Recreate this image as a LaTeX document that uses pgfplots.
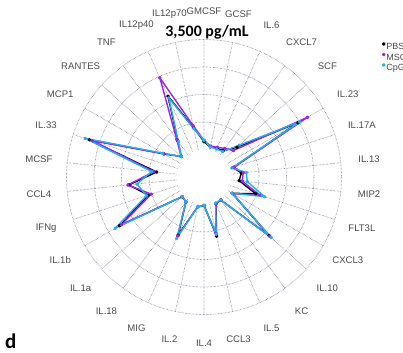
\documentclass[border=0pt]{standalone}
\usepackage{pgfplots}
\pgfplotsset{compat=1.18}
\usepackage{pgfplotstable}
\usepgfplotslibrary{polar}
\usetikzlibrary{calc}
\usepackage{fontspec}
\setmainfont{Liberation Sans}
\newfontfamily\titlefont{Carlito}
\definecolor{gridc}{HTML}{6C6C88}
\definecolor{pbsc}{HTML}{000000}
\definecolor{mscc}{HTML}{A020F0}
\definecolor{cpgc}{HTML}{22B2EA}
\definecolor{labc}{HTML}{4A4A4A}

% angle (deg, counter-clockwise from east), values in pg/mL
\pgfplotstableread{
ang pbs msc cpg
90 250 290 290
78 100 130 100
66 130 160 100
54 160 250 130
42 540 380 640
30 2580 2930 2640
18 100 130 60
6 320 380 480
-6 250 350 510
-18 860 990 1150
-30 160 190 160
-42 1910 1940 2000
-54 30 30 30
-66 60 60 30
-78 1050 950 990
-90 30 30 30
-102 100 100 100
-114 1150 1180 1270
-126 100 100 100
-138 60 60 60
-150 2230 2160 2390
-162 990 890 1050
-174 1530 1560 1270
-186 640 730 800
-198 2960 2860 3100
-210 600 600 640
-222 100 100 100
-234 540 600 510
-246 1940 2580 1880
-258 730 800 700
-270 250 290 290
}\data

\begin{document}
\begin{tikzpicture}[x=1bp,y=1bp,
  lab/.style={font=\fontsize{9.6}{10}\selectfont, text=labc, anchor=center, inner sep=0pt}]
\clip (0,0) rectangle (403,353);
\path[use as bounding box] (0,0) rectangle (403,353);
\begin{polaraxis}[
  at={(204bp,176bp)}, anchor=center,
  scale only axis, width=275bp, height=275bp,
  ymin=0, ymax=4375,
  ytick={1750,2625,3500,4375}, yticklabels={},
  xtick={6,18,...,354}, xticklabels={},
  xmajorgrids, ymajorgrids,
  major grid style={densely dotted, gridc, line width=0.7bp},
  axis line style={draw=none},
  tick style={draw=none},
  clip=false,
  legend image code/.code={\fill[#1] (1.5bp,2.6bp) circle (1.1bp);},
  legend style={at={(axis description cs:1.147,0.99)}, anchor=north west,
    draw=none, fill=none, inner sep=0pt, outer sep=0pt,
    font=\fontsize{9}{9}\selectfont, text=labc, row sep=2.2bp,
    nodes={inner sep=0.8bp, text height=6.2bp, text depth=0bp}},
  legend cell align=left,
  every axis plot/.append style={line width=1.4bp, line join=round, mark=*, mark size=1.1bp, mark options={solid}},
]
\fill[white] let \p1=(axis cs:0,0), \p2=(axis cs:0,875), \n1={veclen(\x2-\x1,\y2-\y1)} in (\p1) circle[radius=\n1];
\addplot[color=pbsc] table[x=ang, y expr=\thisrow{pbs}+875] {\data};
\addlegendentry{PBS}
\addplot[color=mscc] table[x=ang, y expr=\thisrow{msc}+875] {\data};
\addlegendentry{MSC}
\addplot[color=cpgc] table[x=ang, y expr=\thisrow{cpg}+875] {\data};
\addlegendentry{CpG}
\node[lab] at (axis cs:6,5282) {IL.13};
\node[lab] at (axis cs:18,5282) {IL.17A};
\node[lab] at (axis cs:30,5282) {IL.23};
\node[lab] at (axis cs:42,5282) {SCF};
\node[lab] at (axis cs:54,5282) {CXCL7};
\node[lab] at (axis cs:66,5282) {IL.6};
\node[lab] at (axis cs:78,5282) {GCSF};
\node[lab] at (axis cs:90,5282) {GMCSF};
\node[lab] at (axis cs:102,5282) {IL12p70};
\node[lab] at (axis cs:114,5282) {IL12p40};
\node[lab] at (axis cs:126,5282) {TNF};
\node[lab] at (axis cs:138,5282) {RANTES};
\node[lab] at (axis cs:150,5282) {MCP1};
\node[lab] at (axis cs:162,5282) {IL.33};
\node[lab] at (axis cs:174,5282) {MCSF};
\node[lab] at (axis cs:186,5282) {CCL4};
\node[lab] at (axis cs:198,5282) {IFNg};
\node[lab] at (axis cs:210,5282) {IL.1b};
\node[lab] at (axis cs:222,5282) {IL.1a};
\node[lab] at (axis cs:234,5282) {IL.18};
\node[lab] at (axis cs:246,5282) {MIG};
\node[lab] at (axis cs:258,5282) {IL.2};
\node[lab] at (axis cs:270,5282) {IL.4};
\node[lab] at (axis cs:282,5282) {CCL3};
\node[lab] at (axis cs:294,5282) {IL.5};
\node[lab] at (axis cs:306,5282) {KC};
\node[lab] at (axis cs:318,5282) {IL.10};
\node[lab] at (axis cs:330,5282) {CXCL3};
\node[lab] at (axis cs:342,5282) {FLT3L};
\node[lab] at (axis cs:354,5282) {MIP2};
\end{polaraxis}
\node[anchor=center, inner sep=0pt, font=\titlefont\bfseries\fontsize{16}{16}\selectfont] at (207,321) {3,500 pg/mL};
\node[anchor=base west, inner sep=0pt, font=\titlefont\bfseries\fontsize{21}{21}\selectfont] at (5,5) {d};
\end{tikzpicture}
\end{document}
